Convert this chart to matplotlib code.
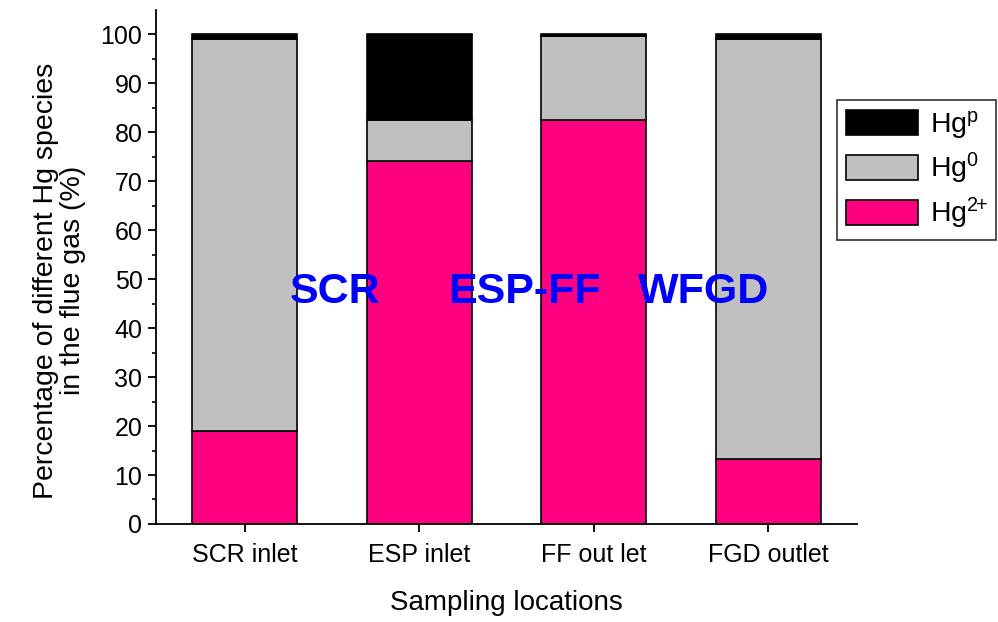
import numpy as np
import matplotlib
matplotlib.use('Agg')
import matplotlib.pyplot as plt

# data
locations = ["SCR inlet", "ESP inlet", "FF out let", "FGD outlet"]
hg2 = [18.9, 74.2, 82.6, 13.3]
hg0 = [80.1, 8.3, 17.0, 85.7]
hgp = [1.0, 17.5, 0.4, 1.0]
units = ["SCR", "ESP-FF", "WFGD"]
unit_x = [1.52, 2.60, 3.63]

plt.rcParams['font.family'] = ['Liberation Sans', 'DejaVu Sans']
plt.rcParams['mathtext.fontset'] = 'custom'
plt.rcParams['mathtext.rm'] = 'Liberation Sans'
plt.rcParams['mathtext.it'] = 'Liberation Sans'

fig = plt.figure(figsize=(9.98, 6.22), dpi=100)
ax = fig.add_axes([0.156, 0.1576, 0.703, 0.8264])

x = np.arange(1, len(locations) + 1)
w = 0.6
b1 = ax.bar(x, hg2, w, color='#FF0080', edgecolor='black', linewidth=1.2,
            label='Hg$^{\\mathregular{2}\\!\\mathregular{+}}$')
b2 = ax.bar(x, hg0, w, bottom=hg2, color='#C0C0C0', edgecolor='black', linewidth=1.2,
            label='Hg$^\\mathregular{0}$')
b3 = ax.bar(x, hgp, w, bottom=np.array(hg2) + np.array(hg0), color='black',
            edgecolor='black', linewidth=1.2, label='Hg$^\\mathregular{p}$')

for ux, name in zip(unit_x, units):
    ax.text(ux, 47.3, name, color='#0000FF', fontsize=31, fontweight='bold',
            ha='center', va='center')

ax.set_xlim(0.49, 4.51)
ax.set_ylim(0, 105)
ax.set_xticks(x)
ax.set_xticklabels(locations)
ax.set_yticks(np.arange(0, 101, 10))
ax.set_yticks(np.arange(5, 105, 10), minor=True)
ax.tick_params(axis='both', labelsize=18, width=1.3, length=6)
ax.tick_params(axis='x', pad=8)
ax.tick_params(axis='y', which='minor', width=1.2, length=3)
for s in ['top', 'right']:
    ax.spines[s].set_visible(False)
for s in ['left', 'bottom']:
    ax.spines[s].set_linewidth(1.3)

ax.set_xlabel("Sampling locations", fontsize=20, labelpad=16)
ax.set_ylabel("Percentage of different Hg species\nin the flue gas (%)", fontsize=20.5,
              linespacing=1.05)
ax.yaxis.set_label_coords(-0.1, 0.473)

leg = fig.legend(handles=[b3, b2, b1], loc='upper left', bbox_to_anchor=(0.839, 0.839),
                 fontsize=20.5, frameon=True, fancybox=False, edgecolor='black',
                 handlelength=2.55, handleheight=1.0, borderpad=0.3, labelspacing=0.35,
                 handletextpad=0.4, borderaxespad=0)
leg.get_frame().set_linewidth(1.2)

fig.savefig("out.png", dpi=100)
